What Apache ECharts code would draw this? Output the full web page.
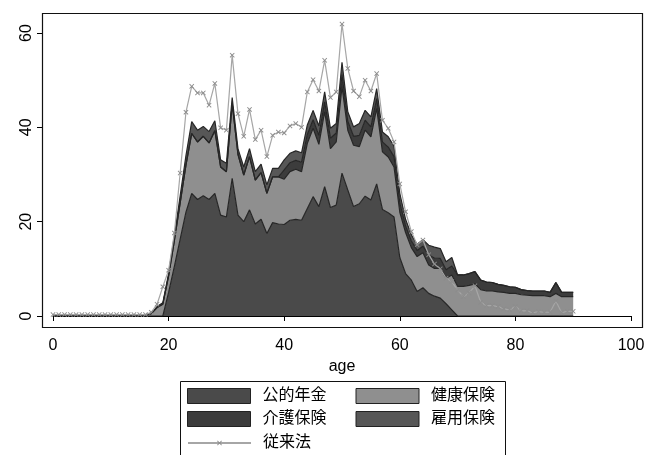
<!DOCTYPE html>
<html>
<head>
<meta charset="utf-8">
<script src="https://cdn.jsdelivr.net/npm/echarts@6/dist/echarts.min.js"></script>
<style>
  html, body { margin: 0; padding: 0; background: #fff; }
  #chart { width: 648px; height: 455px; }
</style>
</head>
<body>
<div id="chart"></div>
<script>
// x categories: age 0..100 (data runs 0..90)
const ageCats = Array.from({ length: 101 }, (_, i) => String(i));

const pension = [
  0, 0, 0, 0, 0, 0, 0, 0, 0, 0, 0, 0, 0, 0, 0, 0, 0, 0, 0, 0,
  5, 10.5, 16.3, 22, 26, 24.7, 25.5, 24.7, 26, 21.4,
  21, 29.2, 21.4, 20, 22.5, 19.5, 20.5, 17.5, 19.8, 19.5,
  19.4, 20.3, 20.5, 20.3, 22.8, 25.3, 23.2, 27.4, 23, 23.5,
  30.3, 26.7, 23.2, 23.8, 25.4, 24.6, 28, 22.6, 21.9, 21,
  12.4, 9, 7.6, 5.2, 6, 4.8, 4.2, 3.8, 2.6, 1.3,
  0, 0, 0, 0, 0, 0, 0, 0, 0, 0,
  0, 0, 0, 0, 0, 0, 0, 0, 0, 0, 0
];
const health = [
  0.2, 0.2, 0.2, 0.2, 0.2, 0.2, 0.2, 0.2, 0.2, 0.2,
  0.2, 0.2, 0.2, 0.2, 0.2, 0.2, 0.2, 0.5, 1.8, 2.5,
  3.5, 5.5, 7.7, 10, 12.7, 12.2, 12.6, 12, 13.3, 10.2,
  9.6, 15.8, 12.9, 9.9, 11.3, 9.3, 9.9, 8.5, 9.7, 10,
  9.6, 10.3, 10.6, 10.3, 13.8, 14.5, 13.2, 15.9, 12.5, 13.4,
  18.3, 12.7, 13, 12.1, 14, 13.4, 16, 12.2, 11.8, 10.6,
  9.6, 8.7, 6.9, 7.4, 7.4, 6, 5.9, 6.3, 5.4, 7.4,
  6.3, 6.3, 6.5, 6.8, 5.6, 5.3, 5.3, 5.1, 5, 4.8,
  4.8, 4.5, 4.4, 4.3, 4.3, 4.3, 4.1, 4.8, 4.1, 4.1, 4.1
];
const care = [
  0, 0, 0, 0, 0, 0, 0, 0, 0, 0, 0, 0, 0, 0, 0, 0, 0, 0, 0, 0,
  0, 0, 0, 0, 0, 0, 0, 0, 0, 0, 0, 0, 0, 0, 0, 0, 0, 0, 0, 0,
  2, 1.9, 1.9, 2, 1.9, 1.8, 1.9, 2.1, 2.2, 1.9,
  2.6, 1.9, 1.9, 2.4, 2.1, 2.1, 2.1, 2.1, 2.1, 2.2,
  2, 1.4, 1.4, 1.3, 1.4, 2.1, 2.2, 2.1, 1.8, 1.9,
  2.4, 2.4, 2.5, 2.6, 2, 1.9, 1.8, 1.6, 1.5, 1.4,
  1.3, 1.1, 1, 1, 1, 1, 0.9, 2.3, 0.9, 0.9, 0.9
];
const employ = [
  0, 0, 0, 0, 0, 0, 0, 0, 0, 0,
  0, 0, 0, 0, 0, 0, 0, 0.1, 0.2, 0.3,
  0.5, 1, 1.5, 2, 2.5, 2.5, 2.1, 2.4, 2.1, 1.5,
  1.8, 1.3, 1.2, 1.7, 1.7, 1.8, 1.8, 1.8, 1.8, 1.8,
  2.1, 2, 2, 2, 2, 2, 2, 2.1, 2.1, 2,
  2.6, 2, 2, 2.5, 2.1, 2.1, 2.1, 2.1, 2.2, 2.2,
  2, 1.4, 1.3, 1.3, 1.4, 2.1, 2.3, 2.1, 1.7, 1.8,
  0, 0, 0, 0, 0, 0, 0, 0, 0, 0,
  0, 0, 0, 0, 0, 0, 0, 0, 0, 0, 0
];
const conventional = [
  0.3, 0.3, 0.3, 0.3, 0.3, 0.3, 0.3, 0.3, 0.3, 0.3,
  0.3, 0.3, 0.3, 0.3, 0.3, 0.3, 0.3, 0.8, 2.5, 6.2,
  9.7, 17.6, 30.3, 43.2, 48.7, 47.3, 47.3, 44.7, 49.3, 39.9,
  39.4, 55.3, 42.9, 38.1, 43.8, 37.4, 39.4, 33.8, 38.3, 39,
  38.8, 40.3, 40.8, 40, 47.5, 50.1, 47.7, 54.2, 46.3, 47.5,
  61.9, 52.5, 47.7, 46.5, 50, 47.7, 51.4, 41.5, 39.8, 36.9,
  28, 22.1, 17.9, 15.1, 16.1, 13, 11, 10, 8, 7.3,
  5.5, 4.1, 4.9, 6.4, 2.9, 2.2, 2.2, 2, 1.5, 1.3,
  2, 1.1, 1.1, 0.7, 0.9, 0.8, 0.8, 3.2, 0.7, 1, 1
];

const xTickStep = 20;
const yTicks = [0, 20, 40, 60];

const FONT = "'Liberation Sans', 'Noto Sans CJK JP', sans-serif";
const colors = {
  '公的年金': '#4a4a4a',
  '健康保険': '#8f8f8f',
  '介護保険': '#3c3c3c',
  '雇用保険': '#575757'
};
const xMark = 'path://M0,1.3L1.3,0L5,3.7L8.7,0L10,1.3L6.3,5L10,8.7L8.7,10L5,6.3L1.3,10L0,8.7L3.7,5Z';

function areaSeries(name, vals) {
  return {
    name: name,
    type: 'line',
    stack: 'total',
    data: vals,
    symbol: 'none',
    lineStyle: { color: '#262626', width: 1.2 },
    areaStyle: { color: colors[name], opacity: 1 },
    itemStyle: { color: colors[name] },
    z: 2
  };
}

function legendRow(names, top, itemHeight) {
  return {
    left: 187,
    top: top,
    padding: 0,
    itemWidth: 63,
    itemHeight: itemHeight,
    itemGap: 29,
    selectedMode: false,
    textStyle: { fontFamily: FONT, fontSize: 16, color: '#000', lineHeight: 16, padding: [0, 0, 0, 7] },
    data: names.map(n => colors[n]
      ? { name: n, icon: 'rect', itemStyle: { color: colors[n], borderColor: '#222', borderWidth: 1 } }
      : { name: n })
  };
}

const everyTick = (idx) => idx % xTickStep === 0;

const chart = echarts.init(document.getElementById('chart'));
chart.setOption({
  animation: false,
  backgroundColor: '#fff',
  grid: { left: 53, right: 17, top: 33, bottom: 139 },
  xAxis: {
    type: 'category',
    data: ageCats,
    boundaryGap: false,
    offset: 12,
    axisLine: { show: true, lineStyle: { color: '#000', width: 1 } },
    axisTick: { show: true, length: 5, interval: everyTick, lineStyle: { color: '#000' } },
    axisLabel: { fontFamily: FONT, fontSize: 16, color: '#000', margin: 10, interval: everyTick },
    splitLine: { show: false },
    name: 'age',
    nameLocation: 'middle',
    nameGap: 27,
    nameTextStyle: { fontFamily: FONT, fontSize: 16, color: '#000' }
  },
  yAxis: {
    type: 'value',
    min: yTicks[0],
    max: yTicks[yTicks.length - 1],
    interval: 20,
    offset: 11,
    axisLine: { show: true, lineStyle: { color: '#000', width: 1 } },
    axisTick: { show: true, length: 5, lineStyle: { color: '#000' } },
    axisLabel: { fontFamily: FONT, fontSize: 16, color: '#000', rotate: 90, margin: 7 },
    splitLine: { show: false }
  },
  legend: [
    legendRow(['公的年金', '健康保険'], 388, 15),
    legendRow(['介護保険', '雇用保険'], 411, 15),
    legendRow(['従来法'], 435, 6)
  ],
  graphic: [
    {
      type: 'rect', silent: true, z: 100,
      shape: { x: 42.5, y: 13.5, width: 600, height: 314 },
      style: { fill: 'none', stroke: '#111', lineWidth: 1.2 }
    },
    {
      type: 'rect', silent: true, z: 100,
      shape: { x: 180.5, y: 381.5, width: 325, height: 90 },
      style: { fill: 'none', stroke: '#111', lineWidth: 1 }
    }
  ],
  series: [
    areaSeries('公的年金', pension),
    areaSeries('健康保険', health),
    areaSeries('介護保険', care),
    areaSeries('雇用保険', employ),
    {
      name: '従来法',
      type: 'line',
      data: conventional,
      clip: false,
      symbol: xMark,
      symbolSize: 5,
      showAllSymbol: true,
      lineStyle: { color: '#a6a6a6', width: 1.2 },
      itemStyle: { color: '#8c8c8c' },
      z: 5
    }
  ]
});
</script>
</body>
</html>
